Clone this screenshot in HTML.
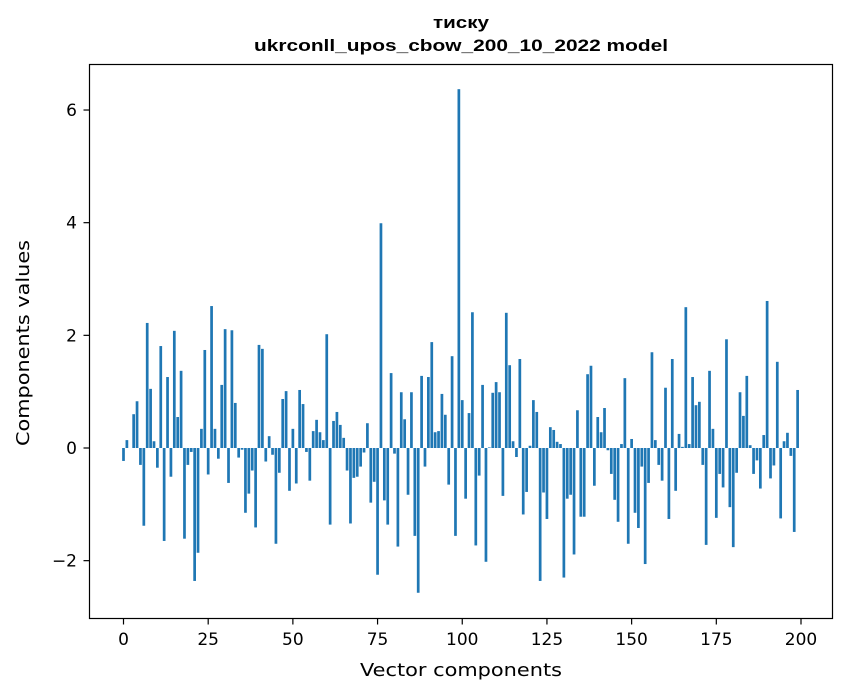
<!DOCTYPE html>
<html><head><meta charset="utf-8"><style>
html,body{margin:0;padding:0;background:#fff}
svg{display:block;font-family:"DejaVu Sans","Liberation Sans",sans-serif}
</style></head><body>
<svg id="s" width="847" height="696" viewBox="0 0 847 696" xmlns="http://www.w3.org/2000/svg">
<rect width="847" height="696" fill="#fff"/>
<text x="461" y="28" text-anchor="middle" font-size="17" font-weight="bold" font-family="Liberation Sans, sans-serif" textLength="56" lengthAdjust="spacingAndGlyphs">тиску</text>
<text x="461" y="51" text-anchor="middle" font-size="17" font-weight="bold" font-family="Liberation Sans, sans-serif" textLength="414" lengthAdjust="spacingAndGlyphs">ukrconll_upos_cbow_200_10_2022 model</text>
<g id="bars" fill="#1f77b4"></g>
<rect x="89.5" y="64.5" width="743" height="554" fill="none" stroke="#000" stroke-width="1.2"/>
<g id="ticks" stroke="#000" stroke-width="1.2"></g>
<g id="lbl" font-size="17" fill="#000"></g>
<text x="461" y="676" text-anchor="middle" font-size="18" textLength="202" lengthAdjust="spacingAndGlyphs">Vector components</text>
<text transform="translate(29,343) rotate(-90)" text-anchor="middle" font-size="18" textLength="206" lengthAdjust="spacingAndGlyphs">Components values</text>
</svg>
<script>
var v=[-0.23,0.14,0,0.6,0.83,-0.3,-1.38,2.22,1.05,0.12,-0.35,1.81,-1.65,1.26,-0.51,2.08,0.55,1.37,-1.61,-0.3,
-0.07,-2.36,-1.86,0.34,1.74,-0.47,2.52,0.34,-0.19,1.12,2.11,-0.62,2.09,0.8,-0.17,-0.03,-1.15,-0.81,-0.4,-1.41,
1.83,1.76,-0.24,0.21,-0.12,-1.7,-0.44,0.87,1.01,-0.76,0.34,-0.63,1.03,0.78,-0.07,-0.58,0.3,0.5,0.28,0.14,
2.02,-1.36,0.48,0.64,0.41,0.18,-0.4,-1.34,-0.53,-0.51,-0.33,-0.08,0.44,-0.97,-0.6,-2.25,3.99,-0.93,-1.36,1.33,
-0.1,-1.75,0.99,0.51,-0.83,0.99,-1.56,-2.57,1.28,-0.33,1.26,1.88,0.28,0.3,0.96,0.59,-0.65,1.63,-1.56,6.37,
0.85,-0.9,0.62,2.41,-1.73,-0.49,1.12,-2.02,0.01,0.98,1.17,0.99,-0.85,2.4,1.47,0.12,-0.16,1.58,-1.18,-0.78,
0.04,0.85,0.64,-2.36,-0.79,-1.26,0.37,0.32,0.11,0.07,-2.3,-0.9,-0.83,-1.89,0.67,-1.22,-1.22,1.31,1.46,-0.67,
0.55,0.28,0.71,-0.04,-0.46,-0.92,-1.31,0.07,1.24,-1.7,0.16,-1.15,-1.42,-0.33,-2.06,-0.62,1.7,0.14,-0.3,-0.58,
1.07,-1.26,1.58,-0.76,0.25,0.02,2.5,0.07,1.26,0.76,0.82,-0.3,-1.72,1.37,0.34,-1.24,-0.46,-0.7,1.93,-1.05,
-1.76,-0.44,0.99,0.57,1.28,0.05,-0.46,-0.22,-0.72,0.23,2.61,-0.54,-0.31,1.53,-1.25,0.12,0.27,-0.14,-1.49,1.03];
var NS="http://www.w3.org/2000/svg";
function X(i){return 123.5+3.3875*i}
function Y(u){return 448-56.33*u}
var b=document.getElementById("bars");
v.forEach(function(u,i){var r=document.createElementNS(NS,"rect");
var y0=Y(0),y1=Y(u);r.setAttribute("x",X(i)-1.355);r.setAttribute("width",2.71);
r.setAttribute("y",Math.min(y0,y1));r.setAttribute("height",Math.abs(y1-y0));b.appendChild(r);});
var t=document.getElementById("ticks"),l=document.getElementById("lbl");
for(var k=0;k<=200;k+=25){var x=X(k);var ln=document.createElementNS(NS,"line");
ln.setAttribute("x1",x);ln.setAttribute("x2",x);ln.setAttribute("y1",618.5);ln.setAttribute("y2",624.5);t.appendChild(ln);
var tx=document.createElementNS(NS,"text");tx.setAttribute("x",x);tx.setAttribute("y",645);tx.setAttribute("text-anchor","middle");tx.textContent=k;l.appendChild(tx);}
[-2,0,2,4,6].forEach(function(k){var y=Y(k);var ln=document.createElementNS(NS,"line");
ln.setAttribute("x1",83.5);ln.setAttribute("x2",89.5);ln.setAttribute("y1",y);ln.setAttribute("y2",y);t.appendChild(ln);
var tx=document.createElementNS(NS,"text");tx.setAttribute("x",77);tx.setAttribute("y",y+6);tx.setAttribute("text-anchor","end");tx.textContent=(k<0?"\u2212"+(-k):k);l.appendChild(tx);});
</script>
</body></html>
